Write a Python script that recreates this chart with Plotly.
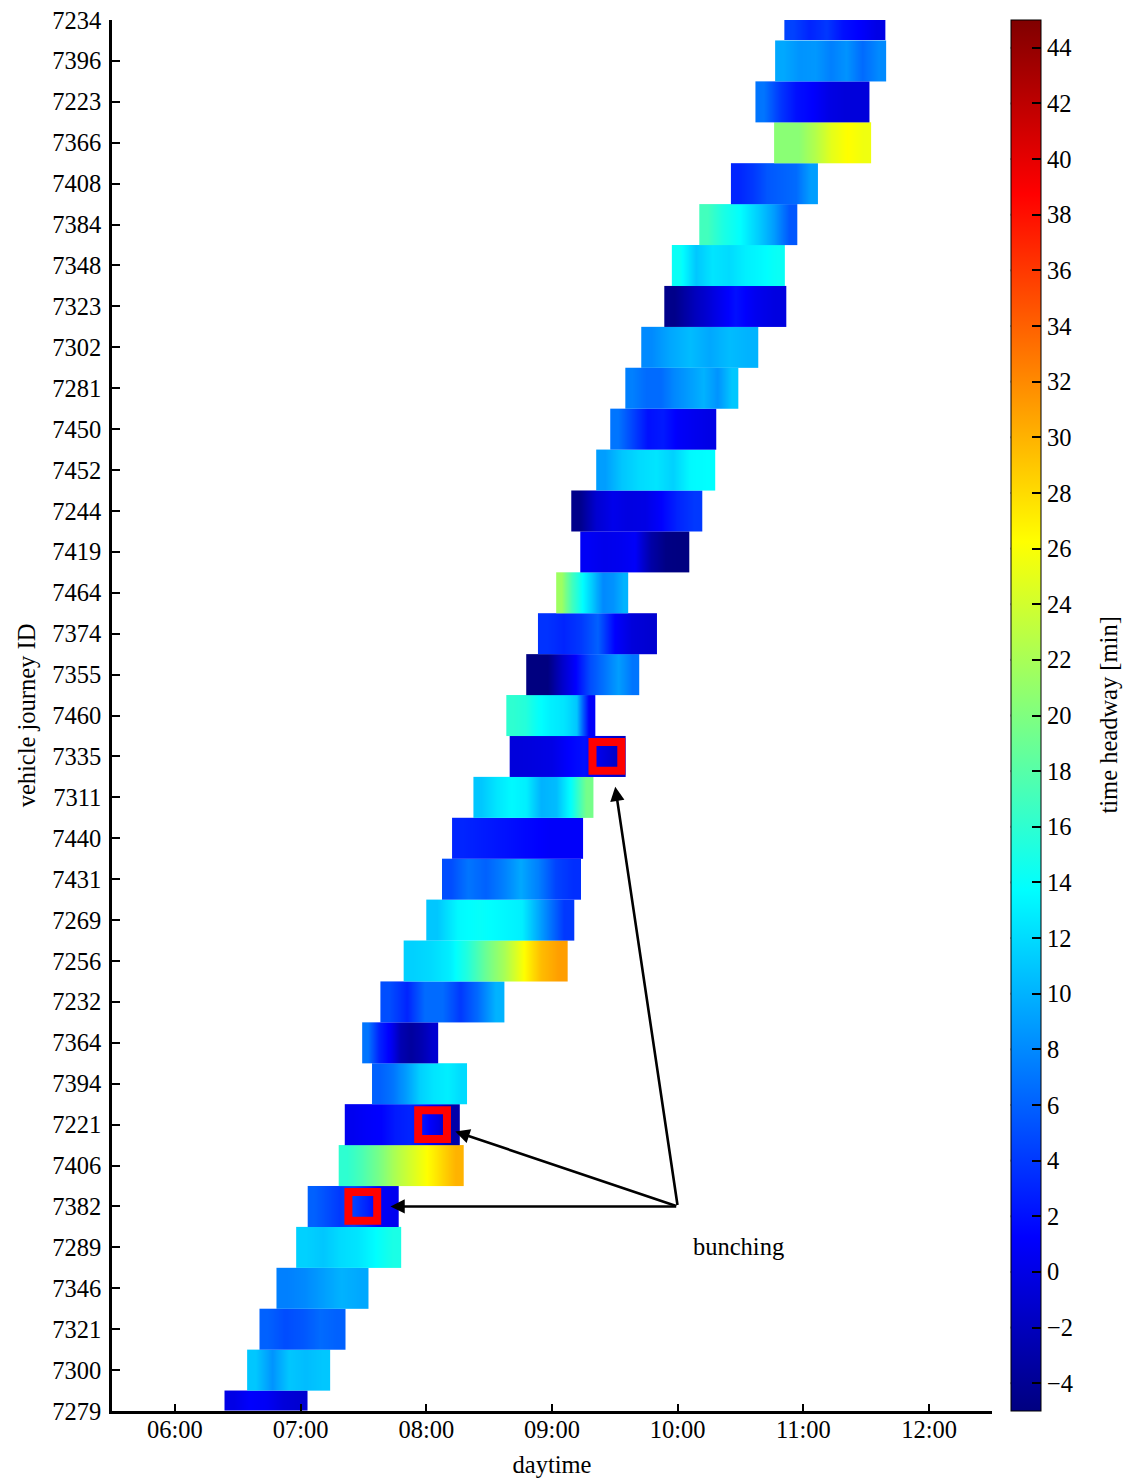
import plotly.graph_objects as go
import numpy as np

# ---------------- data ----------------
vehicle_ids = ["7279", "7300", "7321", "7346", "7289", "7382", "7406", "7221", "7394", "7364",
               "7232", "7256", "7269", "7431", "7440", "7311", "7335", "7460", "7355", "7374",
               "7464", "7419", "7244", "7452", "7450", "7281", "7302", "7323", "7348", "7384",
               "7408", "7366", "7223", "7396", "7234"]

# journey start / end (minutes after midnight)
start_min = [383.7, 394.5, 400.4, 408.5, 417.9, 423.4, 438.2, 441.1, 454.1, 449.4,
             458.1, 469.2, 480.0, 487.5, 492.3, 502.5, 519.8, 518.2, 527.7, 533.3,
             542.0, 553.5, 549.2, 561.1, 567.8, 575.0, 582.6, 593.6, 597.2, 610.3,
             625.4, 646.0, 637.1, 646.5, 650.9]
end_min = [423.2, 433.9, 441.4, 452.5, 468.0, 466.7, 497.8, 495.8, 499.5, 485.6,
           517.1, 547.6, 550.8, 554.0, 554.6, 559.7, 575.0, 560.7, 581.6, 590.1,
           576.5, 605.5, 611.5, 617.9, 618.2, 629.0, 638.3, 651.6, 651.3, 657.3,
           666.7, 692.3, 691.3, 699.4, 699.0]

# time headway [min] along each journey (evenly spaced stops)
headway = [
    [0.0, 1.2, 0.8, -0.5, -1.0],                      # 7279
    [11, 8.5, 11, 10.5, 11],                          # 7300
    [6, 5, 5.5, 6.5, 6],                              # 7321
    [7.5, 8, 9, 10, 9.5],                             # 7346
    [11.5, 11, 12, 12.5, 13.7, 15],                   # 7289
    [6, 5, 4, 4.5, 3, 1, 0.5],                        # 7382
    [16, 17.5, 19.5, 22, 24, 26, 28, 30],             # 7406
    [0.5, 1, 1.3, 2.5, 3, 2, 0, -3],                  # 7221
    [6, 7, 9, 11.5, 12.5, 13, 12],                    # 7394
    [7, 3, 1, -2.5, -3.5, -2.5, -1],                  # 7364
    [5, 3, 6.5, 6.5, 4, 6.5, 10],                     # 7232
    [11.5, 12, 13, 15.5, 19, 22, 26, 29.5, 31],       # 7256
    [11, 13.5, 14, 13.5, 13, 8.5, 4],                 # 7269
    [5, 7, 6, 7.5, 9.5, 7.5, 4.5, 3.5],               # 7431
    [3, 2.5, 2, 1.5, 1, 1],                           # 7440
    [11, 12.5, 13.5, 13, 10, 10.5, 14, 19.5],         # 7311
    [-0.5, -0.3, 0, 1.25, 2, 0, -1.5],                # 7335
    [16, 15.5, 14, 13, 12.5, 11, 1],                  # 7460
    [-5, -5, -1.5, 1.25, 5, 7, 9, 7],                 # 7355
    [3.7, 3, 4, 6, 1.25, -0.5, -1],                   # 7374
    [21.5, 17, 13.75, 11, 8, 8.5, 10],                # 7464
    [0.8, 0.3, 0.5, 1, -3, -4.8, -5],                 # 7419
    [-4.5, -1, 0.3, -0.2, 0, 1.3, 3, 4],              # 7244
    [9, 11, 12, 12.5, 11.5, 13.5, 13.75],             # 7452
    [7, 4.5, 2, 2.5, 1, 0.5, 0],                      # 7450
    [7.5, 6.5, 6.5, 8, 9, 10, 8.5, 11],               # 7281
    [8, 9.5, 10.5, 9.5, 10.5, 10],                    # 7302
    [-4.5, -2, 0, 2, 0.5, -0.3],                      # 7323
    [14.2, 11, 12.5, 12, 13, 13.5, 14.2],             # 7348
    [17, 15, 13.75, 11.5, 9, 5.5],                    # 7384
    [3, 4, 5.5, 6, 6.5, 9],                           # 7408
    [20.5, 20.5, 22.5, 25, 26.3, 25.5],               # 7366
    [7, 4, 2, 1.25, 0, -0.5, -0.5],                   # 7223
    [9.5, 8.5, 8.7, 7.5, 8.5, 6.5, 8],                # 7396
    [4.5, 3, 4, 2, 1.2, 0],                           # 7234
]

# bunching events: (vehicle journey ID, time in minutes)
bunching_ids = ["7382", "7221", "7335"]
bunching_min = [449.7, 483.0, 566.2]

x_tick_hours = [6, 7, 8, 9, 10, 11, 12]
x_tick_text = ["06:00", "07:00", "08:00", "09:00", "10:00", "11:00", "12:00"]
cbar_ticks = list(range(-4, 45, 2))

# ---------------- figure ----------------
FONT = "Liberation Serif, Times New Roman, serif"
FS = 24.5      # tick labels / annotations
FT = 24.5      # axis titles

jet = [[0.0, "rgb(0,0,128)"], [0.125, "rgb(0,0,255)"], [0.375, "rgb(0,255,255)"],
       [0.625, "rgb(255,255,0)"], [0.875, "rgb(255,0,0)"], [1.0, "rgb(128,0,0)"]]

fig = go.Figure()
for i, vid in enumerate(vehicle_ids):
    vals = headway[i]
    n = len(vals)
    xe = np.linspace(start_min[i] / 60.0, end_min[i] / 60.0, n + 1)
    fig.add_trace(go.Heatmap(
        x=xe, y=[i - 0.5, i, i + 0.5], z=[vals, vals],
        coloraxis="coloraxis", zsmooth="best", hoverinfo="skip", showscale=False))

row_of = {v: k for k, v in enumerate(vehicle_ids)}
hx, hy = 0.1145, 0.352
shapes = []
for vid, m in zip(bunching_ids, bunching_min):
    r = row_of[vid]
    t = m / 60.0
    shapes.append(dict(type="rect", xref="x", yref="y", x0=t - hx, x1=t + hx,
                       y0=r - hy, y1=r + hy, line=dict(color="rgb(255,0,0)", width=8),
                       fillcolor="rgba(0,0,0,0)", layer="above"))

# left-side colorbar ticks (MATLAB-style ticks on both edges)
cb_x = 1.0213
plot_w = 880.0
for v in cbar_ticks:
    yp = (v + 5) / 50.0
    shapes.append(dict(type="line", xref="paper", yref="paper", x0=cb_x, x1=cb_x + 9 / plot_w,
                       y0=yp, y1=yp, line=dict(color="black", width=2), layer="above"))

annotations = []
tail_x, tail_row = 10.0, row_of["7382"]
heads = [(7.715, 5.0), (8.231, 6.83), (9.503, 15.26)]
for hxp, hyp in heads:
    annotations.append(dict(x=hxp, y=hyp, xref="x", yref="y", ax=tail_x, ay=tail_row,
                            axref="x", ayref="y", text="", showarrow=True, arrowhead=2,
                            arrowsize=1.1, arrowwidth=2.6, arrowcolor="black", standoff=0,
                            startstandoff=0))
annotations.append(dict(x=10.48, y=4.03, xref="x", yref="y", text="bunching", showarrow=False,
                        font=dict(family=FONT, size=FS, color="black")))
# colorbar title
annotations.append(dict(x=(1108 - 112) / plot_w, y=0.5, xref="paper", yref="paper",
                        text="time headway [min]", textangle=-90, showarrow=False,
                        xanchor="center", yanchor="middle",
                        font=dict(family=FONT, size=FS, color="black")))

fig.update_layout(
    width=1126, height=1479,
    margin=dict(l=112, r=134, t=20, b=68, autoexpand=False),
    paper_bgcolor="white", plot_bgcolor="white",
    font=dict(family=FONT, size=FS, color="black"),
    showlegend=False,
    coloraxis=dict(
        colorscale=jet, cmin=-5, cmax=45,
        colorbar=dict(
            x=cb_x, xanchor="left", xpad=0, y=0, yanchor="bottom", ypad=0,
            len=1, lenmode="fraction", thickness=30, thicknessmode="pixels",
            outlinewidth=1, outlinecolor="black",
            tickmode="array", tickvals=cbar_ticks,
            ticks="inside", ticklen=9, tickwidth=2, tickcolor="black",
            tickfont=dict(family=FONT, size=FS, color="black"),
        ),
    ),
    xaxis=dict(
        range=[5.5, 12.5], tickmode="array", tickvals=x_tick_hours, ticktext=x_tick_text,
        showline=True, linecolor="black", linewidth=2.5, ticks="inside", ticklen=7,
        tickwidth=2, tickcolor="black", showgrid=False, zeroline=False, mirror=False,
        automargin=False, ticklabelstandoff=-5,
        title=dict(text="daytime", standoff=14, font=dict(family=FONT, size=FT)),
        tickfont=dict(size=FS),
    ),
    yaxis=dict(
        range=[0, 34], tickmode="array", tickvals=list(range(len(vehicle_ids))),
        ticktext=vehicle_ids, showline=True, linecolor="black", linewidth=2.5,
        ticks="inside", ticklen=8, tickwidth=2, tickcolor="black", showgrid=False,
        zeroline=False, mirror=False, automargin=False, ticklabelstandoff=3,
        title=dict(text="vehicle journey ID", standoff=10, font=dict(family=FONT, size=FT)),
        tickfont=dict(size=FS),
    ),
    shapes=shapes, annotations=annotations,
)

fig.write_html("out.html")
